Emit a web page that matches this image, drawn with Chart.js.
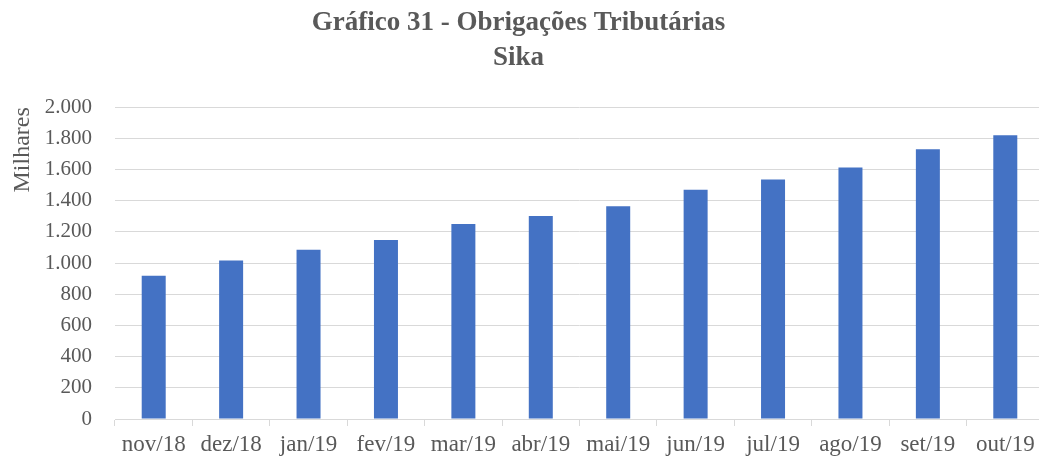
<!DOCTYPE html>
<html>
<head>
<meta charset="utf-8">
<script src="https://cdn.jsdelivr.net/npm/chart.js@4"></script>
<style>
    html, body { margin: 0; padding: 0; background: #fff; overflow: hidden; }
    #wrap { width: 1044px; height: 460px; }
</style>
</head>
<body>
<div id="wrap"><canvas id="taxChart" width="1044" height="460"></canvas></div>
<script>
// Months shown on the x axis
const months = ["nov/18", "dez/18", "jan/19", "fev/19", "mar/19", "abr/19",
    "mai/19", "jun/19", "jul/19", "ago/19", "set/19", "out/19"];
// Obrigações tributárias, in thousands
const obligations = [919, 1016, 1086, 1148, 1251, 1302, 1364, 1471, 1536, 1613, 1730, 1820];
const titleLines = ["Gráfico 31 - Obrigações Tributárias", "Sika"];
const yTitle = "Milhares";

const textColor = "#595959";
const gridColor = "#d9d9d9";
const serif = "'Liberation Serif', 'Times New Roman', serif";

// 2000 -> "2.000"
const fmt = (v) => String(v).replace(/\B(?=(\d{3})+(?!\d))/g, ".");

const ctx = document.getElementById("taxChart").getContext("2d");
new Chart(ctx, {
    type: "bar",
    data: {
        labels: months,
        datasets: [
            {
                label: "Obrigações Tributárias",
                data: obligations,
                backgroundColor: "#4472C4",
                borderWidth: 0,
                barPercentage: 0.31,
                categoryPercentage: 1,
            },
        ],
    },
    options: {
        responsive: false,
        animation: false,
        layout: { padding: { left: -7, right: 0, top: 0, bottom: 0 } },
        plugins: {
            legend: { display: false },
            tooltip: { enabled: false },
            title: {
                display: true,
                text: titleLines,
                color: textColor,
                font: { family: serif, size: 27, weight: "bold", lineHeight: 1.3 },
                padding: { top: 5, bottom: 32 },
            },
        },
        scales: {
            x: {
                grid: {
                    offset: true,
                    drawOnChartArea: false,
                    drawTicks: true,
                    tickLength: 7,
                    color: gridColor,
                },
                border: { display: true, color: gridColor },
                ticks: {
                    color: textColor,
                    font: { family: serif, size: 23 },
                    autoSkip: false,
                    maxRotation: 0,
                    padding: 5,
                },
                afterFit: (scale) => { scale.height = 41; },
            },
            y: {
                min: 0,
                max: 2000,
                grid: { color: gridColor, drawTicks: false },
                border: { display: false },
                ticks: {
                    stepSize: 200,
                    color: textColor,
                    font: { family: serif, size: 21 },
                    padding: 23,
                    callback: (v) => fmt(v),
                },
                title: {
                    display: true,
                    text: yTitle,
                    align: "end",
                    color: textColor,
                    font: { family: serif, size: 24 },
                    padding: { top: 15, bottom: 0 },
                },
                afterFit: (scale) => { scale.width = 122; },
            },
        },
    },
});
</script>
</body>
</html>
